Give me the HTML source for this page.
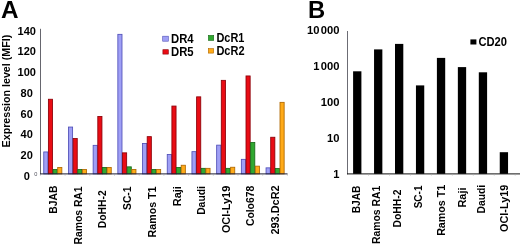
<!DOCTYPE html>
<html><head><meta charset="utf-8"><title>Figure</title>
<style>html,body{margin:0;padding:0;background:#fff;}svg{display:block;filter:blur(0.35px);}text{font-family:"Liberation Sans",Arial,Helvetica,sans-serif;font-weight:bold;fill:#000;}</style></head><body>
<svg width="520" height="246" viewBox="0 0 520 246">
<rect width="520" height="246" fill="#fff"/>
<text x="1.1" y="18.4" font-size="24.3">A</text>
<text x="307.9" y="18.1" font-size="23.8">B</text>
<g id="chartA">
<text transform="translate(10.1,147.4) rotate(-90)" font-size="10" textLength="112.6" lengthAdjust="spacingAndGlyphs">Expression level (MFI)</text>
<text x="26.7" y="179.9" font-size="11" text-anchor="middle">0</text>
<text x="26.7" y="159.2" font-size="11" text-anchor="middle">20</text>
<text x="26.7" y="138.4" font-size="11" text-anchor="middle">40</text>
<text x="26.7" y="117.7" font-size="11" text-anchor="middle">60</text>
<text x="26.7" y="96.9" font-size="11" text-anchor="middle">80</text>
<text x="26.7" y="76.1" font-size="11" text-anchor="middle">100</text>
<text x="26.7" y="55.4" font-size="11" text-anchor="middle">120</text>
<text x="26.7" y="34.6" font-size="11" text-anchor="middle">140</text>
<text x="34.2" y="175.5" font-size="5.6" style="font-weight:normal;fill:#50505c">0</text>
<line x1="40.5" y1="28.8" x2="40.5" y2="174.3" stroke="#66666e" stroke-width="1"/>
<rect x="43.75" y="151.95" width="4.15" height="21.95" fill="#9f9ff5" stroke="#5050b8" stroke-width="0.85"/>
<rect x="48.40" y="99.25" width="4.15" height="74.65" fill="#e90c14" stroke="#8c0008" stroke-width="0.85"/>
<rect x="53.05" y="169.45" width="4.15" height="4.45" fill="#30a830" stroke="#186818" stroke-width="0.85"/>
<rect x="57.70" y="167.45" width="4.15" height="6.45" fill="#ffaa18" stroke="#b06800" stroke-width="0.85"/>
<rect x="68.45" y="127.05" width="4.15" height="46.85" fill="#9f9ff5" stroke="#5050b8" stroke-width="0.85"/>
<rect x="73.10" y="138.55" width="4.15" height="35.35" fill="#e90c14" stroke="#8c0008" stroke-width="0.85"/>
<rect x="77.75" y="169.55" width="4.15" height="4.35" fill="#30a830" stroke="#186818" stroke-width="0.85"/>
<rect x="82.40" y="169.55" width="4.15" height="4.35" fill="#ffaa18" stroke="#b06800" stroke-width="0.85"/>
<rect x="93.15" y="145.35" width="4.15" height="28.55" fill="#9f9ff5" stroke="#5050b8" stroke-width="0.85"/>
<rect x="97.80" y="116.45" width="4.15" height="57.45" fill="#e90c14" stroke="#8c0008" stroke-width="0.85"/>
<rect x="102.45" y="167.45" width="4.15" height="6.45" fill="#30a830" stroke="#186818" stroke-width="0.85"/>
<rect x="107.10" y="167.45" width="4.15" height="6.45" fill="#ffaa18" stroke="#b06800" stroke-width="0.85"/>
<rect x="117.85" y="34.35" width="4.15" height="139.55" fill="#9f9ff5" stroke="#5050b8" stroke-width="0.85"/>
<rect x="122.50" y="152.85" width="4.15" height="21.05" fill="#e90c14" stroke="#8c0008" stroke-width="0.85"/>
<rect x="127.15" y="166.85" width="4.15" height="7.05" fill="#30a830" stroke="#186818" stroke-width="0.85"/>
<rect x="131.80" y="169.45" width="4.15" height="4.45" fill="#ffaa18" stroke="#b06800" stroke-width="0.85"/>
<rect x="142.55" y="143.45" width="4.15" height="30.45" fill="#9f9ff5" stroke="#5050b8" stroke-width="0.85"/>
<rect x="147.20" y="136.65" width="4.15" height="37.25" fill="#e90c14" stroke="#8c0008" stroke-width="0.85"/>
<rect x="151.85" y="169.45" width="4.15" height="4.45" fill="#30a830" stroke="#186818" stroke-width="0.85"/>
<rect x="156.50" y="169.45" width="4.15" height="4.45" fill="#ffaa18" stroke="#b06800" stroke-width="0.85"/>
<rect x="167.25" y="154.45" width="4.15" height="19.45" fill="#9f9ff5" stroke="#5050b8" stroke-width="0.85"/>
<rect x="171.90" y="106.05" width="4.15" height="67.85" fill="#e90c14" stroke="#8c0008" stroke-width="0.85"/>
<rect x="176.55" y="167.45" width="4.15" height="6.45" fill="#30a830" stroke="#186818" stroke-width="0.85"/>
<rect x="181.20" y="165.25" width="4.15" height="8.65" fill="#ffaa18" stroke="#b06800" stroke-width="0.85"/>
<rect x="191.95" y="151.65" width="4.15" height="22.25" fill="#9f9ff5" stroke="#5050b8" stroke-width="0.85"/>
<rect x="196.60" y="96.85" width="4.15" height="77.05" fill="#e90c14" stroke="#8c0008" stroke-width="0.85"/>
<rect x="201.25" y="168.35" width="4.15" height="5.55" fill="#30a830" stroke="#186818" stroke-width="0.85"/>
<rect x="205.90" y="168.35" width="4.15" height="5.55" fill="#ffaa18" stroke="#b06800" stroke-width="0.85"/>
<rect x="216.65" y="145.15" width="4.15" height="28.75" fill="#9f9ff5" stroke="#5050b8" stroke-width="0.85"/>
<rect x="221.30" y="80.35" width="4.15" height="93.55" fill="#e90c14" stroke="#8c0008" stroke-width="0.85"/>
<rect x="225.95" y="168.35" width="4.15" height="5.55" fill="#30a830" stroke="#186818" stroke-width="0.85"/>
<rect x="230.60" y="167.25" width="4.15" height="6.65" fill="#ffaa18" stroke="#b06800" stroke-width="0.85"/>
<rect x="241.35" y="159.35" width="4.15" height="14.55" fill="#9f9ff5" stroke="#5050b8" stroke-width="0.85"/>
<rect x="246.00" y="75.95" width="4.15" height="97.95" fill="#e90c14" stroke="#8c0008" stroke-width="0.85"/>
<rect x="250.65" y="142.55" width="4.15" height="31.35" fill="#30a830" stroke="#186818" stroke-width="0.85"/>
<rect x="255.30" y="166.15" width="4.15" height="7.75" fill="#ffaa18" stroke="#b06800" stroke-width="0.85"/>
<rect x="266.05" y="167.85" width="4.15" height="6.05" fill="#9f9ff5" stroke="#5050b8" stroke-width="0.85"/>
<rect x="270.70" y="137.25" width="4.15" height="36.65" fill="#e90c14" stroke="#8c0008" stroke-width="0.85"/>
<rect x="275.35" y="168.55" width="4.15" height="5.35" fill="#30a830" stroke="#186818" stroke-width="0.85"/>
<rect x="280.00" y="102.35" width="4.15" height="71.55" fill="#ffaa18" stroke="#b06800" stroke-width="0.85"/>
<line x1="40" y1="173.9" x2="287.5" y2="173.9" stroke="#1c1c34" stroke-width="1"/>
<line x1="40.40" y1="173.9" x2="40.40" y2="175.70000000000002" stroke="#999" stroke-width="0.5"/>
<line x1="65.10" y1="173.9" x2="65.10" y2="175.70000000000002" stroke="#999" stroke-width="0.5"/>
<line x1="89.80" y1="173.9" x2="89.80" y2="175.70000000000002" stroke="#999" stroke-width="0.5"/>
<line x1="114.50" y1="173.9" x2="114.50" y2="175.70000000000002" stroke="#999" stroke-width="0.5"/>
<line x1="139.20" y1="173.9" x2="139.20" y2="175.70000000000002" stroke="#999" stroke-width="0.5"/>
<line x1="163.90" y1="173.9" x2="163.90" y2="175.70000000000002" stroke="#999" stroke-width="0.5"/>
<line x1="188.60" y1="173.9" x2="188.60" y2="175.70000000000002" stroke="#999" stroke-width="0.5"/>
<line x1="213.30" y1="173.9" x2="213.30" y2="175.70000000000002" stroke="#999" stroke-width="0.5"/>
<line x1="238.00" y1="173.9" x2="238.00" y2="175.70000000000002" stroke="#999" stroke-width="0.5"/>
<line x1="262.70" y1="173.9" x2="262.70" y2="175.70000000000002" stroke="#999" stroke-width="0.5"/>
<line x1="287.40" y1="173.9" x2="287.40" y2="175.70000000000002" stroke="#999" stroke-width="0.5"/>
<text transform="translate(56.8,185.6) rotate(-90) scale(0.9500,1)" font-size="10.9" text-anchor="end">BJAB</text>
<text transform="translate(81.7,186.4) rotate(-90) scale(0.9500,1)" font-size="10.9" text-anchor="end">Ramos RA1</text>
<text transform="translate(106.3,190.3) rotate(-90) scale(0.9500,1)" font-size="10.9" text-anchor="end">DoHH-2</text>
<text transform="translate(130.9,186.5) rotate(-90) scale(0.9452,1)" font-size="10.9" text-anchor="end">SC-1</text>
<text transform="translate(155.7,186.5) rotate(-90) scale(0.9785,1)" font-size="10.9" text-anchor="end">Ramos T1</text>
<text transform="translate(180.9,186.1) rotate(-90) scale(1.0070,1)" font-size="10.9" text-anchor="end">Raji</text>
<text transform="translate(204.6,186.1) rotate(-90) scale(0.9500,1)" font-size="10.9" text-anchor="end">Daudi</text>
<text transform="translate(230.0,185.8) rotate(-90) scale(0.9975,1)" font-size="10.9" text-anchor="end">OCI-Ly19</text>
<text transform="translate(254.3,185.8) rotate(-90) scale(0.9500,1)" font-size="10.9" text-anchor="end">Colo678</text>
<text transform="translate(278.9,185.4) rotate(-90) scale(1.0022,1)" font-size="10.9" text-anchor="end">293.DcR2</text>
<rect x="162.70" y="36.20" width="5.60" height="5.00" fill="#9f9ff5" stroke="#5050b8" stroke-width="0.6"/>
<text x="171.0" y="43.0" font-size="12.2" textLength="22.6" lengthAdjust="spacingAndGlyphs">DR4</text>
<rect x="162.90" y="49.70" width="5.40" height="4.40" fill="#e90c14" stroke="#8c0008" stroke-width="0.6"/>
<text x="171.0" y="56.1" font-size="12.2" textLength="22.6" lengthAdjust="spacingAndGlyphs">DR5</text>
<rect x="208.40" y="35.40" width="5.30" height="5.00" fill="#30a830" stroke="#186818" stroke-width="0.6"/>
<text x="216.4" y="42.3" font-size="12.2" textLength="28.0" lengthAdjust="spacingAndGlyphs">DcR1</text>
<rect x="208.30" y="48.60" width="5.30" height="4.50" fill="#ffaa18" stroke="#b06800" stroke-width="0.6"/>
<text x="216.4" y="55.3" font-size="12.2" textLength="28.2" lengthAdjust="spacingAndGlyphs">DcR2</text>
</g>
<g id="chartB">
<text x="339.4" y="178.25" font-size="11.2" text-anchor="end">1</text>
<text x="339.4" y="142.25" font-size="11.2" text-anchor="end">10</text>
<text x="339.4" y="106.25" font-size="11.2" text-anchor="end">100</text>
<text x="339.4" y="70.05" font-size="11.2" text-anchor="end">1<tspan dx="1.2">000</tspan></text>
<text x="339.4" y="34.35" font-size="11.2" text-anchor="end">10<tspan dx="1.3">000</tspan></text>
<line x1="347.5" y1="31" x2="347.5" y2="174.3" stroke="#6c6c74" stroke-width="1"/>
<rect x="353.10" y="71.3" width="8.3" height="102.60" fill="#000"/>
<rect x="374.05" y="49.4" width="8.3" height="124.50" fill="#000"/>
<rect x="395.00" y="43.9" width="8.3" height="130.00" fill="#000"/>
<rect x="415.95" y="85.4" width="8.3" height="88.50" fill="#000"/>
<rect x="436.90" y="57.9" width="8.3" height="116.00" fill="#000"/>
<rect x="457.85" y="67.1" width="8.3" height="106.80" fill="#000"/>
<rect x="478.80" y="72.3" width="8.3" height="101.60" fill="#000"/>
<rect x="499.75" y="152.2" width="8.3" height="21.70" fill="#000"/>
<line x1="347" y1="173.9" x2="520" y2="173.9" stroke="#111" stroke-width="1"/>
<line x1="368.55" y1="173.9" x2="368.55" y2="175.70000000000002" stroke="#aaa" stroke-width="0.5"/>
<line x1="389.50" y1="173.9" x2="389.50" y2="175.70000000000002" stroke="#aaa" stroke-width="0.5"/>
<line x1="410.45" y1="173.9" x2="410.45" y2="175.70000000000002" stroke="#aaa" stroke-width="0.5"/>
<line x1="431.40" y1="173.9" x2="431.40" y2="175.70000000000002" stroke="#aaa" stroke-width="0.5"/>
<line x1="452.35" y1="173.9" x2="452.35" y2="175.70000000000002" stroke="#aaa" stroke-width="0.5"/>
<line x1="473.30" y1="173.9" x2="473.30" y2="175.70000000000002" stroke="#aaa" stroke-width="0.5"/>
<line x1="494.25" y1="173.9" x2="494.25" y2="175.70000000000002" stroke="#aaa" stroke-width="0.5"/>
<line x1="515.20" y1="173.9" x2="515.20" y2="175.70000000000002" stroke="#aaa" stroke-width="0.5"/>
<text transform="translate(359.8,185.6) rotate(-90) scale(0.9310,1)" font-size="10.9" text-anchor="end">BJAB</text>
<text transform="translate(380.1,185.8) rotate(-90) scale(0.9500,1)" font-size="10.9" text-anchor="end">Ramos RA1</text>
<text transform="translate(400.7,189.6) rotate(-90) scale(0.9500,1)" font-size="10.9" text-anchor="end">DoHH-2</text>
<text transform="translate(421.9,185.5) rotate(-90) scale(0.9215,1)" font-size="10.9" text-anchor="end">SC-1</text>
<text transform="translate(444.8,184.7) rotate(-90) scale(0.9832,1)" font-size="10.9" text-anchor="end">Ramos T1</text>
<text transform="translate(466.2,187.5) rotate(-90) scale(1.0070,1)" font-size="10.9" text-anchor="end">Raji</text>
<text transform="translate(484.6,184.8) rotate(-90) scale(0.9500,1)" font-size="10.9" text-anchor="end">Daudi</text>
<text transform="translate(507.5,184.8) rotate(-90) scale(0.9927,1)" font-size="10.9" text-anchor="end">OCI-Ly19</text>
<rect x="470.4" y="39.4" width="6" height="5.1" fill="#000"/>
<text x="478.4" y="45.9" font-size="12.3" textLength="28.6" lengthAdjust="spacingAndGlyphs">CD20</text>
</g>
</svg></body></html>
